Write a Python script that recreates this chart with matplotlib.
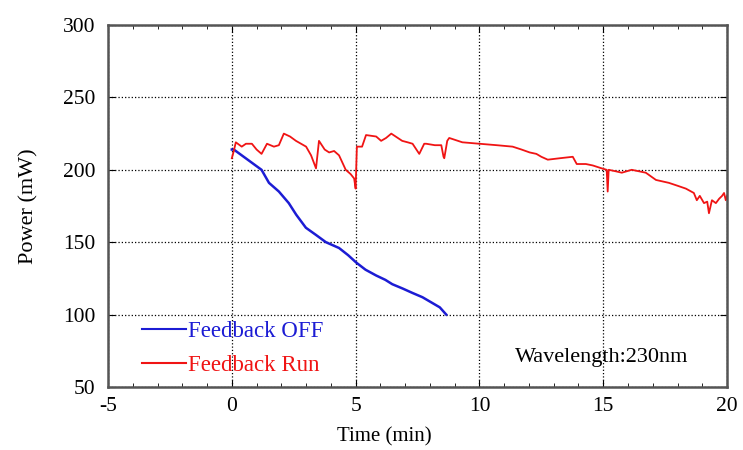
import numpy as np
import matplotlib.pyplot as plt
from matplotlib.ticker import MultipleLocator

plt.rcParams['font.family'] = ['Liberation Serif', 'DejaVu Serif']
plt.rcParams['axes.unicode_minus'] = False

# Feedback Run (red)
run_t = [0.0, 0.08, 0.16, 0.4, 0.57, 0.81, 1.0, 1.2, 1.42, 1.7, 1.9, 2.1, 2.35, 2.59, 3.0, 3.2, 3.4,
         3.52, 3.75, 3.93, 4.13, 4.33, 4.6, 4.8, 4.94, 5.0, 5.05, 5.26, 5.42, 5.83, 6.03, 6.23, 6.44,
         6.88, 7.1, 7.3, 7.57, 7.77, 7.85, 8.2, 8.46, 8.55, 8.58, 8.7, 8.78, 9.31, 10.0, 10.7,
         11.34, 11.7, 12.03, 12.3, 12.5, 12.76, 13.25, 13.77, 13.93, 14.3, 14.58, 14.94, 15.14,
         15.18, 15.22, 15.5, 15.75, 16.15, 16.72, 17.13, 17.65, 18.0, 18.34, 18.66, 18.78, 18.9,
         19.07, 19.2, 19.27, 19.39, 19.55, 19.68, 19.8, 19.88, 19.95, 20.0]
run_p = [208, 213, 219, 216, 218, 218, 214, 211, 218, 216, 217, 225, 223, 220, 216, 210, 201,
         220, 214, 212, 213, 210, 200, 197, 194, 187, 216, 216, 224, 223, 220, 222, 225,
         220, 219, 218, 211, 218, 218, 217, 217, 209, 208, 220, 222, 219, 218, 217,
         216, 214, 212, 211, 209, 207, 208, 209, 204, 204, 203, 201, 200,
         185, 200, 199, 198, 200, 198, 193, 191, 189, 187, 184, 179, 182,
         177, 178, 170, 179, 177, 180, 182, 184, 179, 182]

# Feedback OFF (blue)
off_t = [0.0, 0.08, 0.4, 0.8, 1.2, 1.5, 1.9, 2.3, 2.6, 2.99, 3.4, 3.8, 4.33, 4.7, 5.02, 5.4,
         5.83, 6.2, 6.48, 6.9, 7.29, 7.7, 8.1, 8.4, 8.66]
off_p = [214, 214, 210, 205, 200, 191, 185, 177, 169, 160, 155, 150, 146, 141, 136, 131,
         127, 124, 121, 118, 115, 112, 108, 105, 100]

xticks = [-5, 0, 5, 10, 15, 20]
yticks = [50, 100, 150, 200, 250, 300]

fig = plt.figure(figsize=(7.43, 4.5), dpi=100)
ax = fig.add_axes([0.1454, 0.14, 0.8331, 0.8044])

ax.plot(off_t, off_p, color='#1c1cd4', lw=1.8, label='Feedback OFF')
ax.plot(run_t, run_p, color='#f01414', lw=1.3, label='Feedback Run')

ax.set_xlim(-5, 20)
ax.set_ylim(50, 300)
ax.set_xticks(xticks)
ax.set_yticks(yticks)
ax.xaxis.set_minor_locator(MultipleLocator(1))
ax.tick_params(which='both', direction='in', top=True, right=True, labelsize=15.5)
ax.tick_params(axis='x', pad=7)
ax.tick_params(axis='y', pad=9)
ax.tick_params(which='major', length=5)
ax.tick_params(which='minor', length=3)
ax.grid(True, which='major', color='black', linestyle=':', linewidth=0.9)
for s in ax.spines.values():
    s.set_linewidth(1.8)
    s.set_color('#555555')

ax.set_xlabel('Time (min)', fontsize=15)
ax.set_ylabel('Power (mW)', fontsize=16)
ax.xaxis.set_label_coords(0.446, -0.11)
ax.yaxis.set_label_coords(-0.112, 0.5)

leg = ax.legend(loc='lower left', bbox_to_anchor=(0.055, 0.03), frameon=False,
                fontsize=16.5, labelcolor='linecolor', handlelength=1.9,
                handletextpad=0.1, labelspacing=0.55, borderpad=0, borderaxespad=0)
for line in leg.get_lines():
    line.set_linewidth(1.5)

ax.text(0.657, 0.069, 'Wavelength:230nm', transform=ax.transAxes, fontsize=16)

fig.savefig('out.png', dpi=100)
